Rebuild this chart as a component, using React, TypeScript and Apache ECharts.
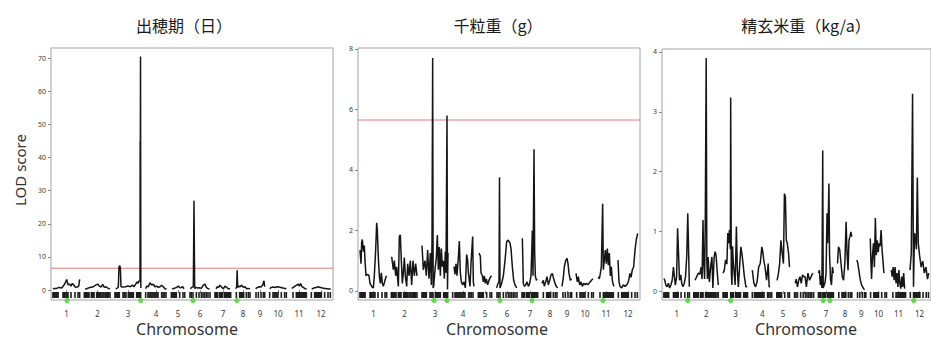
import { useEffect, useRef } from "react";
import * as echarts from "echarts";

// ---------- genetic map ----------
const chromosomes = ["1", "2", "3", "4", "5", "6", "7", "8", "9", "10", "11", "12"];
const chrLengths = [162, 162, 156, 132, 84, 132, 96, 96, 60, 108, 96, 120]; // cM
const chrGap = 24; // cM between chromosomes on the plot
const mapStart = 12;
const mapEnd = 1692;

// marker positions (cM within chromosome)
const markers: number[][] = [
  [0, 3, 6, 9, 12, 15, 18, 21, 24, 27, 30, 60, 64, 68, 72, 78, 84, 90, 108, 132, 150, 160],
  [2, 6, 10, 14, 18, 22, 26, 30, 44, 48, 52, 56, 60, 76, 82, 88, 94, 100, 108, 114, 120, 128, 134, 140, 148, 156],
  [0, 4, 8, 12, 16, 20, 26, 48, 54, 60, 66, 80, 86, 92, 98, 104, 110, 130, 136, 142, 148, 154],
  [4, 18, 24, 30, 36, 42, 48, 54, 60, 66, 72, 78, 100, 108, 116, 126],
  [2, 8, 14, 20, 26, 32, 52, 72, 82],
  [6, 14, 24, 44, 60, 74, 84, 94, 104, 114, 126],
  [0, 4, 8, 12, 16, 28, 34, 40, 46, 58, 62, 66, 70, 74, 78, 82, 88, 94],
  [8, 28, 34, 40, 46, 52, 68, 80, 90],
  [6, 20, 36, 50, 58],
  [4, 24, 30, 36, 42, 48, 54, 74, 94, 104],
  [12, 32, 38, 44, 50, 56, 62, 68, 74, 80, 86, 92],
  [2, 22, 28, 34, 40, 46, 52, 58, 62, 82, 102, 116],
];

// ---------- LOD profiles: [cM, LOD] per chromosome ----------
const headingLod: number[][][] = [
  [[0, 0.4], [8, 0.5], [22, 0.5], [36, 0.8], [52, 0.6], [62, 1.2], [72, 2.0], [82, 3.2], [90, 1.6], [100, 1.8], [108, 1.2], [116, 2.0], [124, 1.6], [132, 1.0], [138, 0.8], [148, 1.0], [154, 1.2], [160, 3.2]],
  [[6, 0.3], [16, 0.4], [36, 0.8], [56, 1.0], [70, 1.5], [82, 1.8], [92, 1.2], [102, 0.9], [112, 1.7], [122, 0.8], [132, 1.0], [146, 0.5], [156, 0.4]],
  [[4, 0.4], [14, 0.6], [20, 1.0], [24, 7.0], [28, 7.35], [32, 6.8], [36, 1.0], [48, 0.9], [64, 1.0], [78, 1.2], [92, 1.0], [104, 1.5], [114, 1.0], [124, 1.8], [132, 2.5], [138, 2.0], [144, 2.8], [150, 2.6], [151, 45], [152, 40], [153, 70.5], [155, 0.6]],
  [[4, 0.4], [10, 1.2], [20, 1.0], [30, 2.2], [40, 1.5], [50, 1.8], [60, 1.0], [70, 1.2], [80, 0.8], [90, 1.0], [100, 1.4], [110, 1.0], [120, 0.4], [130, 0.3]],
  [[6, 0.3], [16, 0.5], [24, 0.6], [34, 0.8], [44, 1.2], [54, 0.7], [62, 0.8], [70, 1.0], [78, 0.4]],
  [[8, 0.4], [16, 0.8], [26, 1.0], [30, 27], [34, 0.5], [44, 0.8], [52, 0.6], [62, 0.7], [72, 0.5], [80, 1.0], [86, 1.5], [96, 1.8], [104, 0.8], [114, 0.4], [124, 0.3]],
  [[6, 0.4], [14, 1.0], [22, 0.8], [30, 1.5], [40, 0.8], [50, 0.4], [60, 1.2], [70, 0.8], [80, 0.4], [90, 0.4]],
  [[4, 0.4], [10, 1.0], [13, 6.0], [16, 0.8], [24, 1.2], [30, 1.0], [40, 1.5], [50, 0.8], [60, 1.0], [70, 0.4], [80, 0.5], [90, 0.3]],
  [[4, 0.4], [14, 0.8], [26, 1.0], [36, 0.9], [46, 1.5], [54, 2.8], [58, 1.0]],
  [[4, 0.4], [14, 0.8], [24, 0.9], [36, 0.8], [48, 1.0], [60, 0.9], [72, 0.8], [84, 0.6], [96, 0.5], [104, 0.4]],
  [[4, 0.5], [14, 0.8], [24, 1.2], [34, 1.5], [44, 1.8], [50, 1.2], [58, 2.0], [66, 1.0], [74, 0.8], [84, 0.4], [94, 0.3]],
  [[4, 0.3], [16, 0.6], [30, 0.8], [42, 1.0], [56, 0.8], [70, 0.6], [84, 0.5], [98, 0.4], [110, 0.3], [118, 0.3]],
];

const grainWeightLod: number[][][] = [
  [[0, 1.35], [6, 0.9], [10, 1.6], [14, 1.7], [20, 1.3], [26, 1.5], [30, 1.0], [36, 0.5], [46, 0.55], [54, 0.5], [60, 0.25], [70, 0.15], [80, 0.1], [86, 0.5], [94, 1.35], [100, 2.25], [104, 2.0], [110, 1.1], [116, 0.5], [122, 0.25], [128, 0.6], [134, 0.25], [140, 0.15], [150, 0.35], [158, 0.5]],
  [[4, 1.13], [14, 0.7], [20, 1.0], [28, 0.5], [34, 0.8], [44, 0.15], [50, 1.8], [56, 1.85], [62, 1.0], [68, 0.25], [74, 0.6], [80, 1.1], [86, 0.5], [94, 0.15], [100, 0.9], [108, 0.5], [116, 1.0], [124, 0.2], [132, 1.0], [140, 0.5], [148, 0.9], [156, 0.5]],
  [[0, 1.5], [8, 0.7], [18, 1.0], [26, 0.5], [34, 1.35], [42, 0.4], [50, 1.25], [56, 0.2], [60, 1.6], [64, 7.7], [67, 0.1], [70, 0.15], [78, 0.7], [86, 1.1], [92, 1.85], [98, 0.7], [104, 1.45], [110, 0.5], [116, 1.4], [122, 0.8], [128, 1.0], [134, 0.4], [140, 1.3], [144, 0.6], [150, 5.8], [153, 0.05], [156, 1.25]],
  [[12, 0.8], [18, 0.55], [24, 0.9], [30, 0.5], [38, 1.1], [44, 1.65], [50, 0.6], [56, 0.3], [64, 0.2], [72, 0.3], [80, 0.1], [88, 1.2], [94, 1.0], [98, 0.6], [108, 0.15], [114, 0.9], [124, 1.8], [128, 0.3], [132, 0.15]],
  [[6, 1.25], [14, 1.15], [18, 0.6], [26, 0.5], [32, 0.3], [38, 0.5], [44, 0.25], [50, 0.4], [58, 0.2], [66, 0.35], [74, 0.45], [82, 0.5]],
  [[4, 0.1], [12, 0.25], [18, 0.3], [21, 3.76], [24, 0.1], [34, 0.25], [44, 0.5], [54, 1.0], [64, 1.63], [74, 1.68], [84, 1.58], [90, 1.4], [98, 0.8], [106, 0.35], [114, 0.2], [124, 0.1]],
  [[2, 1.74], [8, 0.25], [14, 0.15], [22, 0.2], [30, 0.3], [38, 0.15], [46, 0.25], [54, 0.5], [58, 1.2], [62, 2.0], [66, 0.5], [72, 4.68], [76, 1.3], [80, 0.5], [86, 0.35], [90, 0.4]],
  [[0, 0.25], [8, 0.35], [14, 0.15], [22, 0.3], [30, 0.47], [38, 0.2], [46, 0.35], [54, 0.53], [62, 0.58], [70, 0.4], [78, 0.25], [86, 0.15], [94, 0.1]],
  [[0, 0.15], [8, 0.45], [14, 0.8], [22, 1.0], [30, 1.08], [36, 0.9], [42, 0.58], [50, 0.35], [58, 0.4]],
  [[0, 0.58], [8, 0.3], [14, 0.47], [22, 0.2], [30, 0.3], [38, 0.15], [46, 0.25], [54, 0.2], [62, 0.25], [70, 0.2], [78, 0.25], [86, 0.3], [94, 0.36], [102, 0.4]],
  [[2, 0.47], [8, 0.4], [14, 0.58], [20, 0.8], [28, 2.88], [32, 0.7], [38, 1.0], [44, 1.35], [50, 0.9], [56, 1.4], [62, 0.85], [68, 1.25], [74, 0.5], [80, 0.8], [86, 0.35], [92, 0.2], [96, 0.15]],
  [[0, 1.02], [6, 0.3], [12, 0.15], [22, 0.1], [32, 0.2], [42, 0.15], [52, 0.2], [62, 0.3], [72, 0.58], [78, 0.45], [86, 0.7], [94, 0.8], [102, 1.35], [110, 1.7], [118, 1.9]],
];

const brownRiceLod: number[][][] = [
  [[0, 0.21], [6, 0.18], [12, 0.1], [20, 0.07], [28, 0.13], [36, 0.05], [44, 0.1], [52, 0.18], [60, 0.4], [66, 0.24], [72, 0.1], [80, 0.24], [86, 1.05], [92, 0.63], [98, 0.18], [106, 0.27], [112, 0.13], [120, 0.07], [128, 0.13], [136, 0.24], [144, 0.6], [150, 1.3], [156, 0.6], [160, 0.07]],
  [[10, 0.18], [20, 0.24], [30, 0.3], [40, 0.28], [48, 0.4], [54, 0.2], [60, 1.19], [64, 0.5], [70, 0.2], [74, 1.1], [80, 3.9], [84, 0.5], [88, 0.2], [92, 0.57], [100, 0.15], [110, 0.46], [116, 0.57], [122, 0.05], [130, 0.57], [136, 0.66], [142, 0.6], [150, 0.3], [156, 0.1]],
  [[0, 0.3], [8, 0.35], [16, 0.52], [24, 0.45], [30, 0.97], [36, 0.8], [40, 1.02], [46, 0.7], [48, 3.24], [52, 0.3], [56, 0.1], [60, 0.75], [64, 0.5], [70, 0.3], [76, 0.1], [84, 1.08], [90, 0.35], [96, 0.07], [104, 0.4], [112, 0.74], [120, 0.6], [128, 0.4], [134, 0.24], [144, 0.07], [152, 0.07]],
  [[4, 0.35], [14, 0.13], [24, 0.07], [34, 0.15], [44, 0.4], [54, 0.46], [64, 0.74], [70, 0.66], [76, 0.52], [84, 0.4], [94, 0.18], [104, 0.46], [110, 0.07], [116, 0.07]],
  [[4, 0.18], [12, 0.29], [20, 0.46], [28, 0.85], [36, 0.63], [44, 0.46], [50, 1.63], [56, 1.58], [62, 0.85], [68, 0.8], [76, 0.63], [82, 0.4]],
  [[10, 0.13], [16, 0.2], [24, 0.07], [32, 0.18], [40, 0.24], [48, 0.13], [56, 0.27], [64, 0.24], [72, 0.24], [80, 0.07], [90, 0.3], [100, 0.18], [110, 0.24], [120, 0.3]],
  [[0, 0.3], [6, 0.35], [12, 0.1], [18, 0.25], [22, 0.05], [27, 2.35], [30, 0.05], [36, 0.1], [42, 0.15], [48, 0.3], [54, 1.3], [58, 0.8], [62, 1.25], [66, 1.8], [70, 0.6], [76, 0.2], [82, 0.1], [88, 0.4], [94, 0.3]],
  [[0, 0.46], [6, 0.74], [14, 0.69], [22, 0.46], [30, 0.24], [38, 0.18], [46, 0.46], [54, 1.16], [60, 0.63], [66, 0.35], [72, 0.85], [78, 0.91], [84, 0.99], [90, 0.91]],
  [[2, 0.52], [8, 0.46], [14, 0.35], [20, 0.24], [26, 0.15], [32, 0.1], [38, 0.07], [44, 0.04], [50, 0.02]],
  [[2, 0.88], [6, 0.5], [10, 0.2], [16, 0.6], [22, 0.8], [28, 0.4], [34, 1.22], [40, 0.6], [46, 0.85], [52, 0.65], [58, 0.8], [64, 0.75], [70, 1.02], [76, 0.7], [82, 0.5], [88, 0.3]],
  [[2, 0.35], [8, 0.24], [14, 0.4], [20, 0.18], [26, 0.4], [32, 0.13], [38, 0.3], [44, 0.07], [50, 0.35], [56, 0.13], [62, 0.04], [68, 0.24], [74, 0.07], [80, 0.3], [86, 0.04]],
  [[0, 0.35], [8, 0.63], [16, 3.3], [22, 0.07], [28, 0.97], [34, 0.9], [40, 0.7], [46, 1.9], [52, 0.8], [60, 0.6], [70, 0.4], [80, 0.5], [90, 0.3], [100, 0.4], [110, 0.2], [118, 0.3]],
];

// significance thresholds
const headingThreshold = 6.6;
const grainWeightThreshold = 5.65;

// QTL positions marked in green: [chromosome number, cM]
const headingQtl = [[1, 84], [3, 154], [6, 24], [8, 12]];
const grainWeightQtl = [[3, 72], [3, 150], [6, 24], [7, 60], [11, 30]];
const brownRiceQtl = [[1, 150], [3, 48], [7, 30], [7, 72], [12, 24]];

const titles = ["出穂期（日）", "千粒重（g）", "精玄米重（kg/a）"];
const headingTicks = [0, 10, 20, 30, 40, 50, 60, 70];
const grainWeightTicks = [0, 2, 4, 6, 8];
const brownRiceTicks = [0, 1, 2, 3, 4];
const xTitle = "Chromosome";
const yTitle = "LOD score";

// ---------- derived ----------
const chrStarts: number[] = [];
chrLengths.forEach((L, i) => {
  chrStarts.push(i === 0 ? mapStart : chrStarts[i - 1] + chrLengths[i - 1] + chrGap);
});
const chrCenters = chrStarts.map((s, i) => s + chrLengths[i] / 2);
const markerGlobal = markers.flatMap((list, c) => list.map((p) => chrStarts[c] + p));

const panels = [
  { left: 51, top: 48, width: 282, height: 252, yMin: -3, yMax: 73.1, ticks: headingTicks, lod: headingLod, thr: headingThreshold as number | null, qtl: headingQtl, title: titles[0], titleX: 184, xTitleX: 187 },
  { left: 358, top: 48, width: 282, height: 252, yMin: -0.3, yMax: 8.03, ticks: grainWeightTicks, lod: grainWeightLod, thr: grainWeightThreshold as number | null, qtl: grainWeightQtl, title: titles[1], titleX: 498, xTitleX: 497 },
  { left: 662, top: 49, width: 280, height: 251, yMin: -0.15, yMax: 4.05, ticks: brownRiceTicks, lod: brownRiceLod, thr: null as number | null, qtl: brownRiceQtl, title: titles[2], titleX: 806, xTitleX: 806 },
];

const latin = "'Noto Sans', 'DejaVu Sans', sans-serif";
const cjk = "'Noto Sans CJK JP', 'Noto Sans CJK SC', sans-serif";

function buildOption() {
  const grid = panels.map((p) => ({
    left: p.left, top: p.top, width: p.width, height: p.height,
    show: true, borderColor: "#a3a3a3", borderWidth: 1, backgroundColor: "transparent",
  }));
  const xAxis = panels.map((p, i) => ({
    type: "value", gridIndex: i, min: 0, max: mapEnd,
    axisLine: { show: false }, splitLine: { show: false },
    axisTick: { show: true, customValues: chrCenters, length: 3, lineStyle: { color: "#888", width: 1 } },
    axisLabel: {
      customValues: chrCenters, margin: 9, fontSize: 8, color: "#3a3a3a", fontFamily: latin,
      formatter: (v: number) => {
        const k = chrCenters.findIndex((c) => Math.abs(c - v) < 1);
        return k >= 0 ? chromosomes[k] : "";
      },
    },
  }));
  const yAxis = panels.map((p, i) => ({
    type: "value", gridIndex: i, min: p.yMin, max: p.yMax,
    axisLine: { show: false }, splitLine: { show: false },
    axisTick: { show: true, customValues: p.ticks, length: 3, lineStyle: { color: "#888", width: 1 } },
    axisLabel: { customValues: p.ticks, margin: 5, fontSize: 7, color: "#3a3a3a", fontFamily: latin },
  }));

  const series: any[] = [];
  panels.forEach((p, i) => {
    if (p.thr !== null) {
      series.push({
        type: "line", xAxisIndex: i, yAxisIndex: i, symbol: "none", silent: true, z: 2,
        data: [[0, p.thr], [mapEnd, p.thr]],
        lineStyle: { color: "#e57a7a", width: 1 },
      });
    }
    p.lod.forEach((chr, c) => {
      series.push({
        type: "line", xAxisIndex: i, yAxisIndex: i, symbol: "none", silent: true, z: 3,
        data: chr.map(([pos, v]) => [chrStarts[c] + pos, v]),
        lineStyle: { color: "#151515", width: 1.5 },
      });
    });
    series.push({
      type: "custom", xAxisIndex: i, yAxisIndex: i, silent: true, z: 4,
      data: markerGlobal.map((x) => [x, 0]),
      renderItem: (params: any, api: any) => {
        const cs = params.coordSys;
        const px = api.coord([api.value(0), 0])[0];
        return {
          type: "rect",
          shape: { x: px - 0.8, y: cs.y + cs.height - 8, width: 1.6, height: 6 },
          style: { fill: "#1e1e1e" },
        };
      },
    });
    series.push({
      type: "custom", xAxisIndex: i, yAxisIndex: i, silent: true, z: 5,
      data: p.qtl.map(([c, pos]) => [chrStarts[c - 1] + pos, 0]),
      renderItem: (params: any, api: any) => {
        const cs = params.coordSys;
        const px = api.coord([api.value(0), 0])[0];
        return {
          type: "circle",
          shape: { cx: px, cy: cs.y + cs.height + 0.5, r: 2.6 },
          style: { fill: "#62d84e" },
        };
      },
    });
  });

  const graphic: any[] = [];
  panels.forEach((p) => {
    graphic.push({
      type: "text", x: p.titleX, y: 25,
      style: { text: p.title, font: `16px ${cjk}`, fill: "#1a1a1a", align: "center", verticalAlign: "middle", textAlign: "center", textVerticalAlign: "middle" },
    });
    graphic.push({
      type: "text", x: p.xTitleX, y: 329,
      style: { text: xTitle, font: `16px ${latin}`, fill: "#333", align: "center", verticalAlign: "middle", textAlign: "center", textVerticalAlign: "middle" },
    });
  });
  graphic.push({
    type: "text", x: 20, y: 170, rotation: Math.PI / 2,
    style: { text: yTitle, font: `15px ${latin}`, fill: "#333", align: "center", verticalAlign: "middle", textAlign: "center", textVerticalAlign: "middle" },
  });

  return {
    animation: false,
    backgroundColor: "#ffffff",
    grid, xAxis, yAxis, series, graphic,
  };
}

export default function App() {
  const ref = useRef<HTMLDivElement>(null);
  useEffect(() => {
    if (!ref.current) return;
    const chart = echarts.init(ref.current, undefined, { renderer: "svg" });
    chart.setOption(buildOption() as any);
    return () => chart.dispose();
  }, []);
  return <div ref={ref} style={{ position: "absolute", left: 0, top: 0, width: 931, height: 340 }} />;
}
